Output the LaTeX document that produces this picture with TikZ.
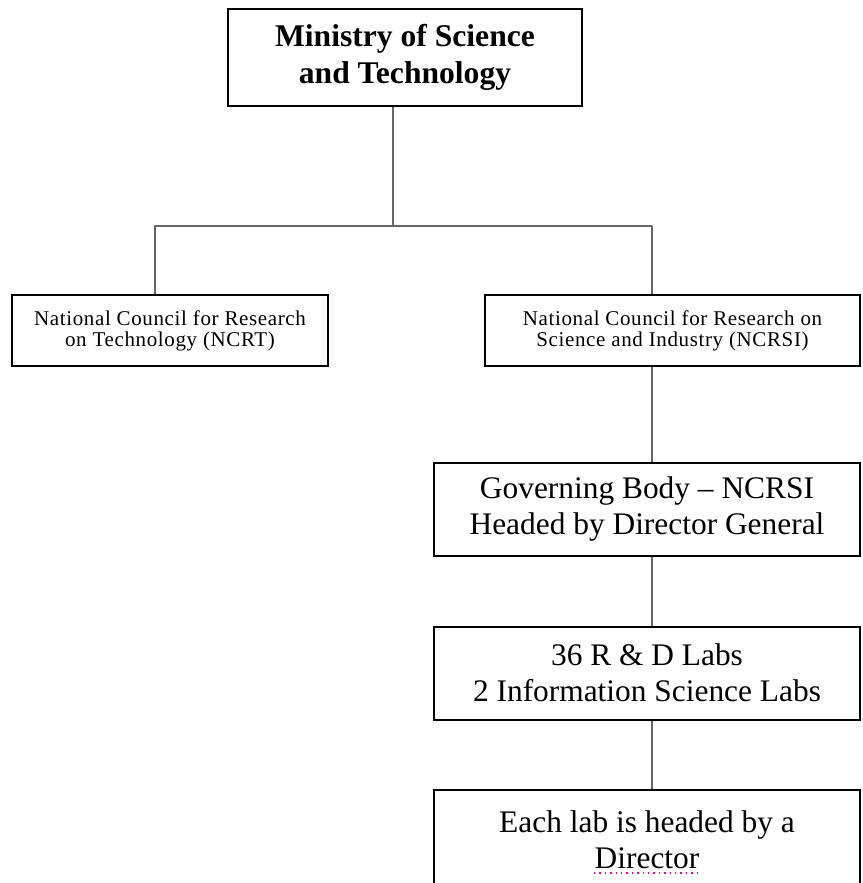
\documentclass[tikz,border=0pt]{standalone}
\usepackage{fontspec}
\setmainfont{Liberation Serif}
\usetikzlibrary{positioning}

\begin{document}
\begin{tikzpicture}[
    x=0.5pt, y=-0.5pt,
    box/.style={rectangle, draw=black, line width=1pt, fill=white, align=center, inner sep=0pt},
    bigbox/.style={box, minimum width=213pt, minimum height=46.5pt, font=\fontsize{15.7}{17.8}\selectfont},
    smallbox/.style={box, minimum height=35.5pt, font=\fontsize{10.5}{10.5}\selectfont\addfontfeature{LetterSpace=3}},
    link/.style={draw=black!60, line width=1pt, line join=round}
]
\useasboundingbox (0,0) rectangle (862,883);

\node[box, minimum width=177pt, minimum height=48.5pt, font=\fontsize{15.8}{18.5}\selectfont\bfseries] (ministry) at (405,57.5) {Ministry of Science\\and Technology};
\node[smallbox, minimum width=158pt] (ncrt) at (170,330.5) {National Council for Research\\on Technology (NCRT)};
\node[smallbox, minimum width=187.5pt] (ncrsi) at (672.5,330.5) {National Council for Research on\\Science and Industry (NCRSI)};
\node[bigbox] (governing) at (647,509) {Governing Body -- NCRSI\\Headed by Director General};
\node[bigbox, below=34.5pt of governing] (labs) {36 R \& D Labs\\2 Information Science Labs};
\node[bigbox, minimum height=50pt, below=34pt of labs] (head) {Each lab is headed by a\\Director};

\coordinate (hub) at (393,226);
\coordinate (ncrtdrop) at (155,226);
\coordinate (ncrsidrop) at (652,226);

\draw[link] (ministry.south -| hub) -- (hub);
\draw[link] (ncrt.north -| ncrtdrop) -- (ncrtdrop) -- (ncrsidrop) -- (ncrsi.north -| ncrsidrop);
\draw[link] (ncrsi.south -| ncrsidrop) -- (governing.north -| ncrsidrop);
\draw[link] (governing.south -| ncrsidrop) -- (labs.north -| ncrsidrop);
\draw[link] (labs.south -| ncrsidrop) -- (head.north -| ncrsidrop);

% spell-check mark under "Director"
\draw[magenta, dotted, line width=0.7pt] (594,873) -- (698,873);
\end{tikzpicture}
\end{document}
